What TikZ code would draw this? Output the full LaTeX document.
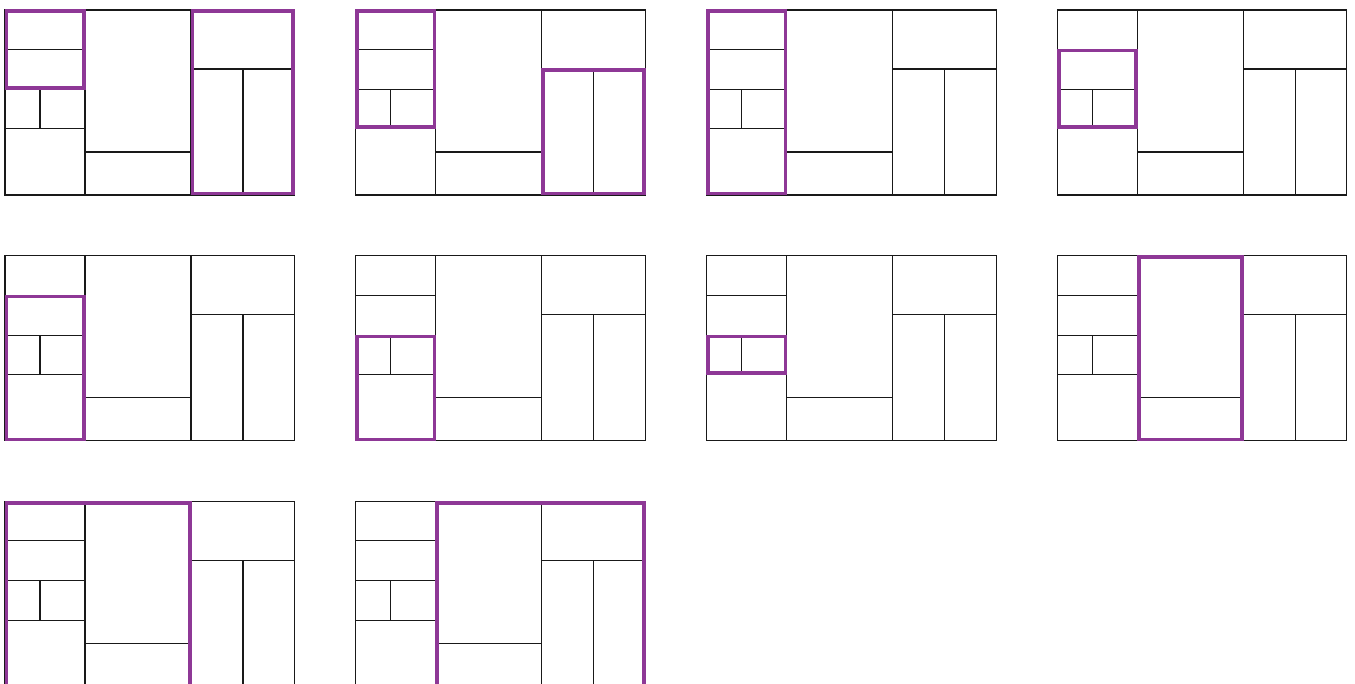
\documentclass[tikz,border=0pt]{standalone}
\definecolor{hlpurple}{RGB}{142,56,150}
\tikzset{
  wall/.style={draw=black!90, line width=1.1pt},
  hilite/.style={draw=hlpurple, line width=3.6pt},
  panel/.pic={
    \draw[wall] (0,0) rectangle (289.5,185);
    \draw[wall] (80,0) -- (80,185) (186,0) -- (186,185);
    \draw[wall] (0,39.3) -- (80,39.3) (0,79.3) -- (80,79.3) (0,118.5) -- (80,118.5);
    \draw[wall] (35,79.3) -- (35,118.5);
    \draw[wall] (80,142) -- (186,142);
    \draw[wall] (186,59) -- (289.5,59);
    \draw[wall] (238,59) -- (238,185);
  }
}
\newcommand\hlbox[4]{\draw[hilite] ({#1+1.3},{#2+1.3}) rectangle ({#3-1.3},{#4-1.3});}
\begin{document}
\begin{tikzpicture}[x=1pt,y=-1pt]
\useasboundingbox (0,0) rectangle (1355,684);
% row 1
\begin{scope}[shift={(5,10)}]
  \pic{panel}; \hlbox{0}{0}{80}{79.3} \hlbox{186}{0}{289.5}{185}
\end{scope}
\begin{scope}[shift={(355.8,10)}]
  \pic{panel}; \hlbox{0}{0}{80}{118.5} \hlbox{186}{59}{289.5}{185}
\end{scope}
\begin{scope}[shift={(706.6,10)}]
  \pic{panel}; \hlbox{0}{0}{80}{185}
\end{scope}
\begin{scope}[shift={(1057.4,10)}]
  \pic{panel}; \hlbox{0}{39.3}{80}{118.5}
\end{scope}
% row 2
\begin{scope}[shift={(5,255.8)}]
  \pic{panel}; \hlbox{0}{39.3}{80}{185}
\end{scope}
\begin{scope}[shift={(355.8,255.8)}]
  \pic{panel}; \hlbox{0}{79.3}{80}{185}
\end{scope}
\begin{scope}[shift={(706.6,255.8)}]
  \pic{panel}; \hlbox{0}{79.3}{80}{118.5}
\end{scope}
\begin{scope}[shift={(1057.4,255.8)}]
  \pic{panel}; \hlbox{80}{0}{186}{185}
\end{scope}
% row 3
\begin{scope}[shift={(5,501.6)}]
  \pic{panel}; \hlbox{0}{0}{186}{185}
\end{scope}
\begin{scope}[shift={(355.8,501.6)}]
  \pic{panel}; \hlbox{80}{0}{289.5}{185}
\end{scope}
\end{tikzpicture}
\end{document}
